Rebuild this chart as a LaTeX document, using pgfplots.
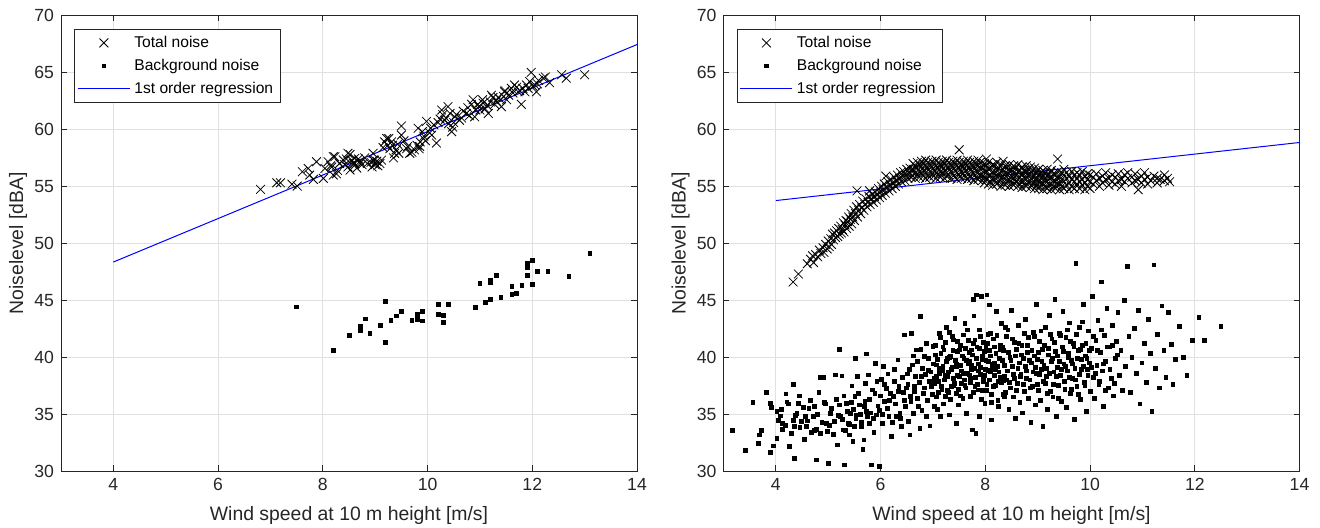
\documentclass[border=0pt]{standalone}
\usepackage{fontspec}
\setmainfont{Liberation Sans}
\usepackage{pgfplots}
\pgfplotsset{compat=1.18}
\definecolor{axgray}{gray}{0.15}
\definecolor{gridgray}{gray}{0.88}
\pgfplotsset{
  mystyle/.style={
    width=288pt, height=227.75pt, scale only axis,
    xmin=3, xmax=14, ymin=30, ymax=70,
    xtick={4,6,...,14}, ytick={30,35,...,70},
    grid=major, major grid style={gridgray, line width=0.4pt},
    tick align=inside, major tick length=2.8pt,
    axis line style={axgray, line width=0.5pt},
    tick style={axgray, line width=0.5pt},
    /pgf/number format/assume math mode=true,
    every tick label/.append style={font=\fontsize{8.8}{10}\selectfont, text=axgray},
    xlabel={Wind speed at 10 m height [m/s]}, ylabel={Noiselevel [dBA]},
    every axis x label/.style={at={(axis description cs:0.5,0)}, anchor=center, yshift=-22pt, font=\fontsize{9.7}{11}\selectfont, text=axgray},
    every axis y label/.style={at={(axis description cs:0,0.5)}, anchor=center, rotate=90, yshift=21.5pt, font=\fontsize{9.7}{11}\selectfont, text=axgray},
    legend style={at={(axis description cs:0,1)}, anchor=north west, xshift=6.5pt, yshift=-6.75pt,
      draw=axgray, line width=0.4pt, fill=white, font=\fontsize{7.8}{9}\selectfont,
      inner xsep=1.5pt, inner ysep=1pt, row sep=0pt,
      nodes={inner sep=2pt, text height=6pt, text depth=1.5pt}},
    legend cell align=left,
    legend image code/.code={\draw[mark repeat=2,mark phase=2,#1] plot coordinates {(0pt,0pt) (13pt,0pt) (26pt,0pt)};},
  },
  tot/.style={only marks, mark=x, mark size=3.1pt, black, mark options={line width=0.4pt}},
  bg/.style={only marks, mark=square*, mark size=0.95pt, black},
  reg/.style={blue, line width=0.5pt, no marks},
}
\begin{document}
\begin{tikzpicture}
\path[use as bounding box] (0,0) rectangle (660pt,263.5pt);
% ---------------- left panel ----------------
\begin{axis}[mystyle, at={(30.5pt,28pt)}, anchor=south west]
\addplot[tot] coordinates {
(6.81,54.73) (7.12,55.31) (7.19,55.31) (7.41,55.19) (7.51,55.02) (7.61,56.28) (7.72,56.57) (7.75,55.99)
(7.82,55.61) (7.88,57.16) (8.01,55.7) (8.04,56.57) (8.10,57.16) (8.20,55.99) (8.23,57.6) (8.32,57.02)
(8.39,57.31) (8.48,57.9) (8.52,56.43) (8.58,57.02) (8.61,57.46) (8.71,57.02) (8.96,57.9) (8.99,57.31)
(8.20,57.6) (8.32,57.0) (8.48,56.7) (8.52,57.8) (8.61,57.0) (8.71,57.2) (8.26,56.1) (8.17,56.7)
(8.96,57.3) (9.09,57.0) (9.22,59.2) (9.31,58.9) (9.37,57.9) (9.50,60.3) (9.50,59.5) (9.60,58.3)
(9.66,57.9) (9.82,60.1) (9.85,58.5) (9.92,59.2) (9.98,60.7) (10.04,59.7) (10.17,58.8) (10.27,61.7)
(10.33,60.8) (10.39,62.0) (10.46,59.8) (10.52,61.1) (10.61,60.8) (10.74,61.4) (10.87,62.6) (10.90,61.1)
(10.96,62.2) (11.06,62.3) (11.16,61.4) (11.22,63.0) (11.31,62.5) (11.41,62.0) (11.47,63.3) (11.51,62.6)
(11.66,63.9) (11.73,63.3) (11.79,62.2) (11.89,63.9) (11.98,65.0) (12.01,63.8) (12.08,63.3) (12.21,64.5)
(12.33,64.1) (12.56,64.8) (12.65,64.5) (13.0,64.8)
(8.15,56.8) (8.28,56.4) (8.42,56.9) (8.45,57.4) (8.55,57.3) (8.65,56.6) (8.68,57.4) (8.75,56.9) (8.80,57.5) (8.85,57.0)
(8.92,57.1) (8.94,56.7) (9.00,56.9) (9.03,57.2) (9.05,56.8) (9.12,57.3) (9.15,58.4) (9.18,58.9)
(9.24,58.6) (9.26,59.2) (9.28,58.3) (9.33,58.6) (9.35,57.5) (9.40,58.2) (9.43,58.7) (9.45,57.9)
(9.55,59.0) (9.62,58.5) (9.70,58.0) (9.75,58.2) (9.80,58.6) (9.84,58.3) (9.86,58.9) (9.90,59.8) (9.93,59.4) (9.96,59.0)
(10.06,60.1) (10.08,59.5) (10.12,60.4) (10.20,60.6) (10.24,60.9) (10.29,61.3) (10.35,61.0) (10.40,60.5) (10.43,61.4) (10.48,60.2) (10.50,60.6)
(10.55,61.3) (10.65,61.0) (10.68,61.6) (10.77,61.9) (10.80,61.2) (10.84,62.2) (10.92,61.7) (10.98,62.0) (11.00,61.7)
(11.05,62.6) (11.10,61.8) (11.14,62.1) (11.20,62.4) (11.25,62.8) (11.28,62.2) (11.35,62.8) (11.40,62.6) (11.45,62.9) (11.48,63.4)
(11.55,63.0) (11.60,63.6) (11.63,63.2) (11.70,63.7) (11.76,63.4) (11.82,63.6) (11.86,63.3) (11.92,63.6) (11.95,64.2) (12.05,63.9) (12.10,64.0) (12.12,64.3) (12.25,64.6)
};
\addlegendentry{Total noise}
\addplot[bg] coordinates {
(7.50,44.42) (8.20,40.57) (8.50,41.92) (8.71,42.68) (8.71,42.51) (8.71,42.33) (8.81,43.36) (8.90,42.10)
(9.10,42.77) (9.20,44.91) (9.20,41.27) (9.30,43.21) (9.40,43.62) (9.50,44.00) (9.70,43.24) (9.80,43.74)
(9.80,43.33) (9.90,44.03) (9.90,43.18) (10.21,44.65) (10.21,43.77) (10.30,43.65) (10.30,43.06) (10.40,44.62)
(10.91,44.36) (11.00,46.44) (11.10,44.83) (11.20,46.74) (11.20,46.56) (11.20,45.09) (11.31,47.15) (11.40,45.24)
(11.61,46.21) (11.61,45.50) (11.70,45.62) (11.80,46.27) (11.90,48.26) (11.90,47.85) (11.90,47.18) (12.00,48.50)
(12.00,46.38) (12.10,47.53) (12.30,47.53) (12.70,47.12) (13.10,49.14)
};
\addlegendentry{Background noise}
\addplot[reg] coordinates {(4,48.35) (14,67.45)};
\addlegendentry{1st order regression}
\end{axis}
% ---------------- right panel ----------------
\begin{axis}[mystyle, at={(361.75pt,28pt)}, anchor=south west]
\addplot[tot] coordinates {
(4.33,46.6) (4.43,47.3) (4.60,48.2) (4.66,48.6) (4.70,48.9) (4.72,48.3) (4.76,49.0) (4.80,48.8) (4.83,49.4) (4.86,49.1)
(4.90,49.6) (4.92,49.2) (4.95,49.9) (4.98,49.5) (5.00,50.2) (5.02,49.7)
(5.05,50.4) (5.06,49.9) (5.08,50.8) (5.10,50.3) (5.12,50.9) (5.14,50.5) (5.16,51.1) (5.18,50.6) (5.20,51.3) (5.21,50.8)
(5.24,51.5) (5.25,50.9) (5.27,51.2) (5.29,51.8) (5.30,51.0) (5.32,51.6) (5.34,52.0) (5.35,51.3) (5.37,51.9) (5.39,52.3)
(5.40,51.5) (5.42,52.1) (5.44,52.6) (5.45,51.7) (5.47,52.3) (5.49,52.9) (5.50,52.0) (5.52,52.6) (5.54,53.2) (5.55,54.6)
(5.56,52.3) (5.58,52.9) (5.60,53.4) (5.62,52.6) (5.64,53.1) (5.66,53.7) (5.68,52.9) (5.70,53.4) (5.72,53.9) (5.74,53.2)
(5.76,53.6) (5.78,54.1) (5.79,54.6) (5.80,53.4) (5.82,53.9) (5.84,54.3) (5.86,53.6) (5.88,54.1) (5.90,54.5) (5.92,53.8)
(5.94,54.3) (5.96,54.8) (5.98,54.0) (6.00,54.5)
(6.02,55.0) (6.03,54.2) (6.05,54.7) (6.07,55.2) (6.09,54.4) (6.10,55.9) (6.12,54.9) (6.14,55.4) (6.16,54.6) (6.18,55.1)
(6.20,55.6) (6.22,54.8) (6.24,55.3) (6.26,55.8) (6.28,55.0) (6.30,55.5) (6.32,56.0) (6.34,55.2) (6.36,55.7) (6.38,56.2)
(6.40,55.4) (6.42,55.9) (6.44,56.3) (6.46,55.5) (6.48,56.0) (6.50,56.5) (6.52,55.7) (6.54,56.2) (6.56,56.6) (6.58,55.8) (6.60,56.3)
(6.62,55.9) (6.62,56.5) (6.62,57.0) (6.66,55.7) (6.66,56.2) (6.66,56.8) (6.70,56.0) (6.70,56.6) (6.70,57.1)
(6.74,55.8) (6.74,56.3) (6.74,56.9) (6.78,56.1) (6.78,56.7) (6.78,57.2) (6.82,55.9) (6.82,56.4) (6.82,57.0)
(6.86,55.7) (6.86,56.2) (6.86,56.8) (6.86,57.3) (6.90,56.0) (6.90,56.6) (6.90,57.1) (6.94,55.8) (6.94,56.3) (6.94,56.9)
(6.98,56.1) (6.98,56.7) (6.98,57.2) (7.02,55.9) (7.02,56.4) (7.02,57.0) (7.06,55.7) (7.06,56.2) (7.06,56.8) (7.06,57.3)
(7.10,56.0) (7.10,56.6) (7.10,57.1) (7.14,55.8) (7.14,56.3) (7.14,56.9) (7.18,56.1) (7.18,56.7) (7.18,57.2)
(7.22,55.7) (7.22,56.4) (7.22,57.0) (7.26,55.9) (7.26,56.2) (7.26,56.8) (7.26,57.3) (7.30,56.0) (7.30,56.6) (7.30,57.1)
(7.34,55.7) (7.34,56.3) (7.34,56.9) (7.38,56.1) (7.38,56.7) (7.38,57.2) (7.42,55.8) (7.42,56.4) (7.42,57.0)
(7.46,55.6) (7.46,56.2) (7.46,56.8) (7.46,57.3) (7.50,56.0) (7.50,56.6) (7.50,57.1) (7.50,58.2)
(7.54,55.7) (7.54,56.3) (7.54,56.9) (7.58,56.1) (7.58,56.7) (7.58,57.2) (7.62,55.8) (7.62,56.4) (7.62,57.0)
(7.66,55.6) (7.66,56.2) (7.66,56.8) (7.66,57.3) (7.70,55.9) (7.70,56.6) (7.70,57.1) (7.74,55.7) (7.74,56.3) (7.74,56.9)
(7.78,55.5) (7.78,56.1) (7.78,56.7) (7.78,57.2) (7.82,55.8) (7.82,56.4) (7.82,57.0) (7.86,55.6) (7.86,56.2) (7.86,56.8) (7.86,57.3)
(7.90,55.9) (7.90,56.5) (7.90,57.1) (7.94,55.5) (7.94,56.1) (7.94,56.7) (7.98,55.3) (7.98,55.8) (7.98,56.4) (7.98,57.0)
(8.02,55.6) (8.02,56.2) (8.02,56.8) (8.02,57.4) (8.06,55.2) (8.06,55.9) (8.06,56.5) (8.06,57.1) (8.10,55.4) (8.10,56.0) (8.10,56.7)
(8.14,55.1) (8.14,55.7) (8.14,56.3) (8.14,56.9) (8.18,55.5) (8.18,56.1) (8.18,56.8) (8.22,55.2) (8.22,55.8) (8.22,56.4) (8.22,57.1)
(8.26,55.4) (8.26,56.0) (8.26,56.6) (8.30,55.0) (8.30,55.7) (8.30,56.3) (8.30,56.9) (8.34,55.3) (8.34,55.9) (8.34,56.5) (8.34,57.2)
(8.38,55.1) (8.38,55.7) (8.38,56.2) (8.38,56.8) (8.42,55.4) (8.42,56.0) (8.42,56.6) (8.46,55.0) (8.46,55.6) (8.46,56.3) (8.46,56.9)
(8.50,55.3) (8.50,55.9) (8.50,56.5) (8.54,55.1) (8.54,55.7) (8.54,56.2) (8.54,56.8) (8.58,55.4) (8.58,56.0) (8.58,56.6)
(8.62,55.0) (8.62,55.6) (8.62,56.3) (8.62,56.9) (8.66,55.2) (8.66,55.8) (8.66,56.4) (8.70,54.9) (8.70,55.5) (8.70,56.1) (8.70,56.7)
(8.74,55.2) (8.74,55.8) (8.74,56.4) (8.78,55.0) (8.78,55.6) (8.78,56.2) (8.78,56.8) (8.82,55.3) (8.82,55.9) (8.82,56.5)
(8.86,54.9) (8.86,55.5) (8.86,56.1) (8.86,56.7) (8.90,55.2) (8.90,55.8) (8.90,56.4) (8.94,54.8) (8.94,55.4) (8.94,56.0) (8.94,56.6)
(8.98,55.1) (8.98,55.7) (8.98,56.3)
(9.02,54.8) (9.02,55.4) (9.02,56.0) (9.02,56.5) (9.06,55.1) (9.06,55.7) (9.06,56.2) (9.10,54.7) (9.10,55.3) (9.10,55.9) (9.10,56.4)
(9.14,55.0) (9.14,55.6) (9.14,56.2) (9.18,54.8) (9.18,55.4) (9.18,55.9) (9.18,56.5) (9.22,55.1) (9.22,55.7) (9.22,56.1)
(9.26,54.7) (9.26,55.3) (9.26,55.8) (9.26,56.4) (9.30,55.0) (9.30,55.5) (9.30,56.1) (9.34,54.8) (9.34,55.4) (9.34,56.0)
(9.38,55.1) (9.38,55.7) (9.38,56.3) (9.38,57.4) (9.42,54.7) (9.42,55.3) (9.42,55.9) (9.46,55.0) (9.46,55.6) (9.46,56.2)
(9.50,54.8) (9.50,55.4) (9.50,56.0) (9.50,56.5) (9.55,55.1) (9.55,55.7) (9.55,56.2) (9.60,54.7) (9.60,55.3) (9.60,55.9)
(9.65,55.0) (9.65,55.6) (9.65,56.3) (9.70,54.8) (9.70,55.4) (9.70,56.0) (9.75,55.2) (9.75,55.7) (9.75,56.2)
(9.80,54.8) (9.80,55.4) (9.80,56.0) (9.85,55.1) (9.85,55.6) (9.85,56.3) (9.90,54.7) (9.90,55.3) (9.90,55.9)
(9.95,55.0) (9.95,55.6) (9.95,56.1) (10.0,54.8) (10.0,55.4) (10.0,56.0)
(10.06,55.2) (10.06,55.8) (10.12,55.5) (10.12,56.1) (10.18,55.0) (10.18,55.7) (10.24,55.3) (10.24,55.9) (10.30,55.6) (10.30,56.2)
(10.36,55.1) (10.36,55.7) (10.42,55.4) (10.42,56.0) (10.48,55.2) (10.48,55.8) (10.54,55.5) (10.54,56.1) (10.60,55.0) (10.60,55.6)
(10.66,55.4) (10.66,56.0) (10.72,55.7) (10.72,56.2) (10.80,55.3) (10.80,55.8) (10.86,55.5) (10.86,56.1) (10.92,54.7) (10.92,55.6)
(10.98,55.3) (10.98,55.9) (11.04,55.6) (11.04,56.2) (11.10,55.2) (11.10,55.8) (11.16,55.5) (11.22,55.9) (11.28,55.3) (11.28,55.7)
(11.34,55.6) (11.42,55.5) (11.42,56.0) (11.48,55.7) (11.52,55.4)
};
\addlegendentry{Total noise}
\addplot[bg] coordinates {
(3.17,33.55) (3.42,31.79) (3.56,36.04) (3.67,32.44) (3.69,33.17) (3.72,33.55) (3.82,36.9) (3.89,31.62) (3.90,35.95) (3.91,35.6)
(3.96,32.2) (4.02,32.87) (4.02,35.22) (4.05,34.43) (4.08,34.84) (4.12,34.19) (4.13,33.67) (4.19,36.77) (4.21,36.07) (4.26,32.14)
(4.33,34.43) (4.34,37.59) (4.36,33.9) (4.36,31.09) (4.40,35.07) (4.43,35.95) (4.45,36.59) (4.49,34.34) (4.55,32.79) (4.57,34.78)
(4.59,33.9) (4.63,35.51) (4.68,33.37) (4.71,34.78) (4.74,35.66) (4.77,30.97) (4.78,33.67) (4.82,36.88) (4.84,38.23) (4.85,33.31)
(4.91,38.23) (4.93,36.0) (4.96,34.19) (4.99,33.46) (5.01,30.68) (5.04,35.07) (5.12,34.34) (5.14,38.44) (5.18,32.29) (5.21,40.69)
(5.23,34.78) (5.26,38.35) (5.28,33.61) (5.31,30.53) (5.35,35.95) (5.38,34.19) (5.40,33.17) (5.42,35.07) (5.45,37.47) (5.47,32.58)
(5.51,36.53) (5.52,39.9) (5.54,34.92) (5.56,38.29) (5.59,35.8) (5.63,33.9) (5.66,31.91) (5.68,32.73) (5.70,36.09) (5.73,40.28)
(5.73,35.22) (5.76,38.44) (5.79,34.19) (5.82,30.53) (5.84,37.12) (5.87,33.37) (5.90,39.46) (5.92,34.92) (5.95,35.71) (5.98,30.39)
(6.01,38.05) (6.03,34.19) (6.06,39.17) (6.08,36.09) (6.11,37.27) (6.14,38.52) (6.16,34.78) (6.17,36.18) (6.21,33.02) (6.24,36.53)
(6.27,37.85) (6.30,34.78) (6.33,39.75) (6.35,37.41) (6.37,35.07) (6.40,33.9) (6.43,36.88) (6.46,41.95) (6.48,35.66) (6.51,38.52)
(6.53,34.34) (6.56,33.17) (6.57,36.53) (6.59,42.09) (6.61,39.31) (6.63,35.07) (6.65,37.41) (6.68,40.63) (6.72,35.66) (6.75,33.75)
(6.76,43.56) (6.78,38.29) (6.81,36.82) (6.84,40.04) (6.88,34.78) (6.91,38.87) (6.94,33.96) (6.97,37.41) (7.00,40.92) (7.03,35.66)
(7.07,39.31) (7.10,37.85) (7.13,42.09) (7.14,34.78) (7.18,38.87) (7.21,40.63) (7.23,36.53) (7.26,42.62) (7.27,38.29) (7.31,34.92)
(7.33,40.04) (7.35,37.41) (7.39,41.51) (7.42,43.41) (7.44,34.19) (7.45,39.17) (7.48,35.8) (7.51,40.63) (7.54,37.7) (7.58,41.95)
(7.61,42.97) (7.64,35.07) (7.67,39.46) (7.69,38.44) (7.72,36.53) (7.74,40.63) (7.75,33.61) (7.77,45.08) (7.78,43.62) (7.80,41.51)
(7.82,33.31) (7.83,45.46) (7.86,37.12) (7.88,34.78) (7.89,42.39) (7.93,45.31) (7.95,40.04) (7.96,38.29) (7.99,35.95) (8.01,40.92)
(8.03,45.46) (8.05,38.87) (8.07,44.58) (8.09,42.09) (8.12,34.48) (8.15,37.41) (8.18,39.46) (8.21,43.99) (8.25,35.66) (8.28,40.63)
(8.31,42.97) (8.34,37.99) (8.37,36.53) (8.40,41.8)
(6.52,37.6) (6.55,38.9) (6.58,36.1) (6.62,40.1) (6.64,37.0) (6.67,38.3) (6.70,39.6) (6.71,36.4) (6.74,37.8) (6.77,40.7)
(6.79,35.3) (6.80,39.0) (6.83,37.3) (6.86,38.5) (6.87,41.2) (6.89,36.2) (6.92,39.9) (6.93,37.9) (6.96,38.7) (6.99,36.7)
(7.01,39.4) (7.02,37.7) (7.04,41.0) (7.06,38.3) (7.08,35.4) (7.09,39.8) (7.11,36.9) (7.13,38.6) (7.15,40.3) (7.16,37.4)
(7.19,39.2) (7.20,35.9) (7.22,38.0) (7.24,41.3) (7.25,39.6) (7.28,37.1) (7.29,38.7) (7.31,40.0) (7.34,36.3) (7.36,39.1)
(7.37,41.8) (7.39,38.1) (7.40,37.5) (7.43,39.7) (7.44,36.8) (7.46,40.5) (7.47,38.4) (7.49,37.2) (7.52,39.3) (7.53,41.0)
(7.55,38.8) (7.57,36.4) (7.59,39.9) (7.60,38.0) (7.62,40.8) (7.63,37.3) (7.65,38.6) (7.68,41.5) (7.70,39.6) (7.71,37.8)
(7.73,38.9) (7.76,40.2) (7.77,36.9) (7.79,39.0) (7.81,38.2) (7.84,40.9) (7.85,37.6) (7.87,39.4) (7.90,41.8) (7.91,38.5)
(7.92,36.3) (7.94,39.8) (7.97,37.9) (7.98,40.5) (8.00,38.9) (8.02,37.1) (8.04,41.2) (8.06,39.6) (8.08,38.0) (8.10,40.1)
(8.11,36.7) (8.13,39.0) (8.16,41.6) (8.17,38.4) (8.19,37.5) (8.20,40.3) (8.23,39.2) (8.24,36.2) (8.26,38.7) (8.29,41.0)
(8.30,37.8) (8.32,39.7) (8.35,40.6) (8.36,38.3) (8.39,36.9)
(5.02,34.0) (5.06,35.5) (5.10,33.2) (5.15,36.3) (5.19,34.9) (5.22,35.8) (5.27,34.5) (5.30,36.6) (5.33,33.6) (5.37,35.2)
(5.41,34.1) (5.44,36.0) (5.48,35.4) (5.50,33.9) (5.53,34.6) (5.58,36.8) (5.61,35.0) (5.64,34.3) (5.69,35.7) (5.71,37.7)
(5.75,34.8) (5.78,36.3) (5.81,35.1) (5.86,34.6) (5.89,36.8) (5.93,37.9) (5.97,35.3) (6.00,36.6) (6.04,35.0) (6.07,37.6)
(6.13,35.5) (6.19,36.8) (6.23,34.3) (6.26,38.9) (6.29,35.9) (6.34,37.0) (6.38,34.6) (6.41,38.2) (6.45,36.2) (6.49,37.3)
(4.10,35.4) (4.18,34.0) (4.24,35.9) (4.30,33.3) (4.38,34.9) (4.46,33.8) (4.52,35.6) (4.60,34.4) (4.66,36.2) (4.73,33.6)
(4.80,35.0) (4.88,34.3) (4.94,35.9)
(8.42,38.8) (8.43,42.4) (8.45,35.4) (8.47,40.0) (8.48,37.3) (8.50,44.1) (8.51,39.2) (8.53,36.5) (8.55,41.3) (8.56,38.1)
(8.58,34.6) (8.60,40.7) (8.61,37.7) (8.63,42.8) (8.65,39.5) (8.66,36.0) (8.68,38.5) (8.70,41.0) (8.71,35.1) (8.73,39.9)
(8.75,37.0) (8.77,43.3) (8.78,38.8) (8.80,40.4) (8.82,36.4) (8.83,41.7) (8.85,38.0) (8.87,34.3) (8.88,39.5) (8.90,37.4)
(8.92,42.2) (8.93,40.1) (8.95,35.8) (8.97,38.6) (8.98,44.6) (9.00,39.8) (9.02,37.1) (9.03,41.4) (9.05,36.2) (9.07,38.9)
(9.09,40.7) (9.10,33.9) (9.12,39.3) (9.14,37.7) (9.15,42.6) (9.17,38.3) (9.19,35.4) (9.21,40.2) (9.22,43.7) (9.24,37.0)
(9.26,39.6) (9.27,41.6) (9.29,36.5) (9.31,38.7) (9.33,45.1) (9.34,40.5) (9.36,34.8) (9.38,39.1) (9.40,37.5) (9.41,42.1)
(9.43,38.4) (9.45,36.1) (9.47,40.9) (9.48,44.0) (9.50,39.4) (9.52,37.2) (9.54,41.7) (9.55,35.6) (9.57,38.8) (9.59,40.3)
(9.61,43.0) (9.62,36.8) (9.64,39.7) (9.66,38.1) (9.68,41.2) (9.70,34.5) (9.71,39.0) (9.73,48.2) (9.75,37.4) (9.77,40.6)
(9.79,42.6) (9.80,38.5) (9.82,36.3) (9.84,39.8) (9.86,41.0) (9.87,44.6) (9.89,37.8) (9.91,40.1) (9.93,35.2) (9.95,38.9)
(9.97,42.3) (9.99,39.5) (10.01,37.0) (10.03,40.8) (10.05,45.3) (10.07,38.2) (10.09,36.4) (10.11,41.5) (10.13,39.3) (10.15,43.2)
(10.17,37.6) (10.19,40.4) (10.21,46.6) (10.23,38.8) (10.25,35.7) (10.27,41.9) (10.30,39.6) (10.32,44.3) (10.35,37.3) (10.37,40.9)
(10.40,38.1) (10.42,42.8) (10.45,36.6) (10.48,39.9) (10.50,41.4) (10.53,43.9) (10.56,38.4) (10.59,40.6) (10.62,37.1) (10.65,45.0)
(10.68,39.2) (10.71,48.0) (10.74,41.8) (10.77,36.9) (10.80,40.0) (10.84,42.5) (10.88,38.6) (10.92,44.1) (10.95,35.9) (10.99,39.5)
(11.03,41.2) (11.07,37.8) (11.11,43.3) (11.15,40.3) (11.18,35.2) (11.22,48.1) (11.25,39.0) (11.29,42.0) (11.33,37.3) (11.37,44.5)
(11.41,40.6) (11.45,38.2) (11.50,43.9) (11.55,41.1) (11.58,37.6) (11.63,39.8) (11.70,42.7) (11.78,40.0) (11.85,38.4) (11.95,41.5)
(12.08,43.5) (12.18,41.5) (12.50,42.7)
(7.03,38.1) (7.05,40.2) (7.07,36.5) (7.12,39.0) (7.14,41.7) (7.17,37.2) (7.19,40.9) (7.23,38.4) (7.27,39.9) (7.30,36.9)
(7.32,42.2) (7.35,38.9) (7.38,40.6) (7.41,37.7) (7.44,39.4) (7.47,41.4) (7.50,38.3) (7.53,36.6) (7.56,40.1) (7.58,38.6)
(7.61,37.5) (7.64,39.7) (7.66,42.4) (7.69,40.4) (7.72,38.1) (7.74,39.3) (7.77,41.2) (7.80,37.4) (7.83,39.9) (7.86,38.8)
(7.88,40.8) (7.91,39.1) (7.94,37.1) (7.96,41.3) (7.99,38.4)
(8.01,39.7) (8.03,37.6) (8.05,42.0) (8.08,40.6) (8.10,38.7) (8.12,36.0) (8.14,39.4) (8.17,40.9) (8.19,38.9) (8.22,41.9)
(8.24,37.9) (8.27,39.9) (8.29,38.2) (8.32,40.9) (8.34,36.7) (8.37,39.3) (8.39,42.6) (8.41,38.0) (8.44,40.4) (8.46,37.8)
(8.49,39.7) (8.52,41.6) (8.54,38.5) (8.57,40.1) (8.59,37.1) (8.62,39.0) (8.64,41.2) (8.67,38.3) (8.69,40.2) (8.72,37.6)
(8.74,42.1) (8.76,39.2) (8.79,38.1) (8.81,41.0) (8.84,39.7) (8.86,37.3) (8.89,40.6) (8.91,38.7) (8.94,41.8) (8.96,39.1) (8.99,37.6)
(9.01,40.4) (9.04,38.5) (9.06,42.3) (9.08,39.6) (9.11,37.9) (9.13,41.0) (9.16,39.0) (9.18,36.8) (9.20,40.8) (9.23,38.6)
(9.25,42.0) (9.28,39.9) (9.30,37.6) (9.32,41.3) (9.35,38.3) (9.37,40.1) (9.39,36.4) (9.42,39.6) (9.44,41.9) (9.46,38.9)
(9.49,40.5) (9.51,37.9) (9.53,39.2) (9.56,42.4) (9.58,40.0) (9.60,38.2) (9.63,41.4) (9.65,37.2) (9.67,39.4) (9.69,40.9)
(9.72,38.0) (9.74,42.0) (9.76,39.9) (9.78,36.7) (9.81,40.7) (9.83,38.9) (9.85,43.1) (9.88,39.2) (9.90,37.5) (9.92,41.2)
(9.94,39.9) (9.96,38.4) (9.98,40.6)
(10.02,39.1) (10.06,41.8) (10.10,38.6) (10.14,40.6) (10.18,37.9) (10.22,42.4) (10.26,39.4) (10.29,37.1) (10.33,40.9) (10.38,38.9)
(10.43,41.0) (10.47,37.7) (10.52,40.2)
};
\addlegendentry{Background noise}
\addplot[reg] coordinates {(4,53.75) (14,58.85)};
\addlegendentry{1st order regression}
\end{axis}
\end{tikzpicture}
\end{document}
